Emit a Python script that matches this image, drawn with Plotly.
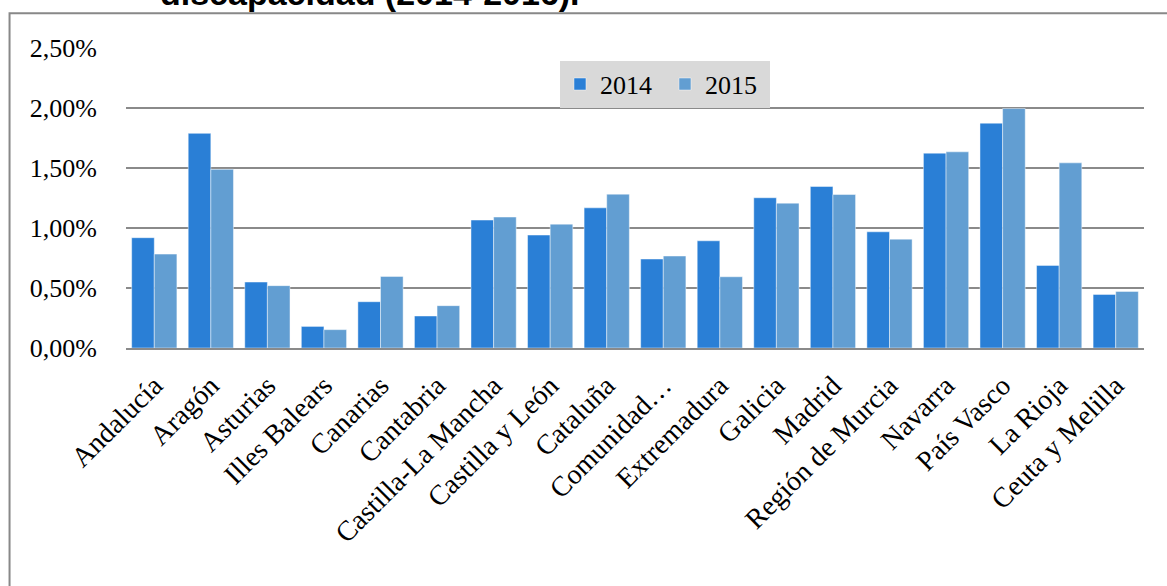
import plotly.graph_objects as go

categories = ["Andalucía", "Aragón", "Asturias", "Illes Balears", "Canarias", "Cantabria",
              "Castilla-La Mancha", "Castilla y León", "Cataluña", "Comunidad…",
              "Extremadura", "Galicia", "Madrid", "Región de Murcia", "Navarra",
              "País Vasco", "La Rioja", "Ceuta y Melilla"]
values_2014 = [0.0092, 0.0179, 0.0055, 0.0018, 0.00386, 0.00267, 0.01067, 0.00942, 0.01169,
               0.00742, 0.00894, 0.01253, 0.01347, 0.00969, 0.01625, 0.01875, 0.00689, 0.00447]
values_2015 = [0.00783, 0.0149, 0.0052, 0.00153, 0.00597, 0.00353, 0.01092, 0.01033, 0.01283,
               0.00767, 0.00594, 0.01208, 0.0128, 0.00908, 0.01636, 0.01997, 0.01544, 0.00472]
y_ticks = [0, 0.005, 0.01, 0.015, 0.02, 0.025]

SERIF = "Liberation Serif, Times New Roman, serif"
GRID = "#8a8a8a"

fig = go.Figure()
fig.add_trace(go.Bar(name="2014", x=categories, y=values_2014,
                     marker=dict(color="#2A7FD6", line=dict(color="rgba(255,255,255,0.45)", width=1))))
fig.add_trace(go.Bar(name="2015", x=categories, y=values_2015,
                     marker=dict(color="#629ED2", line=dict(color="rgba(255,255,255,0.45)", width=1))))

fig.update_layout(
    width=1167, height=586,
    margin=dict(l=126, r=23, t=48, b=238, autoexpand=False),
    paper_bgcolor="white", plot_bgcolor="white",
    separators=",.",
    barmode="group", bargap=0.2, bargroupgap=0,
    font=dict(family=SERIF, color="black"),
    legend=dict(orientation="h", x=0.4263, y=0.958, xanchor="left", yanchor="top",
                bgcolor="#D9D9D9", font=dict(family=SERIF, size=26, color="black"),
                entrywidth=60, entrywidthmode="pixels", traceorder="normal"),
    xaxis=dict(showgrid=False, showline=True, linecolor=GRID, linewidth=2,
               tickangle=-45, tickfont=dict(family=SERIF, size=28),
               ticks="outside", ticklen=8, tickcolor="rgba(0,0,0,0)"),
    yaxis=dict(range=[0, 0.02502], tickvals=y_ticks, tickformat=".2%", showgrid=True,
               gridcolor=GRID, gridwidth=2, zeroline=False, showline=False,
               tickfont=dict(family=SERIF, size=26), ticks="", ticklabelstandoff=28),
    shapes=[dict(type="rect", xref="paper", yref="paper", x0=-0.1144, x1=1.05, y0=-0.9, y1=1.116,
                 line=dict(color="#888888", width=2), fillcolor="rgba(0,0,0,0)", layer="below")],
    annotations=[dict(text="<b>discapacidad (2014-2016).</b>", xref="paper", yref="paper",
                      x=0.2397, y=1.1843, xanchor="center", yanchor="middle", showarrow=False,
                      font=dict(family="Liberation Sans, Arial, sans-serif", size=34, color="black"))],
)

fig.write_html("out.html", config={"displayModeBar": False},
               post_script="document.body.style.margin='0';")
